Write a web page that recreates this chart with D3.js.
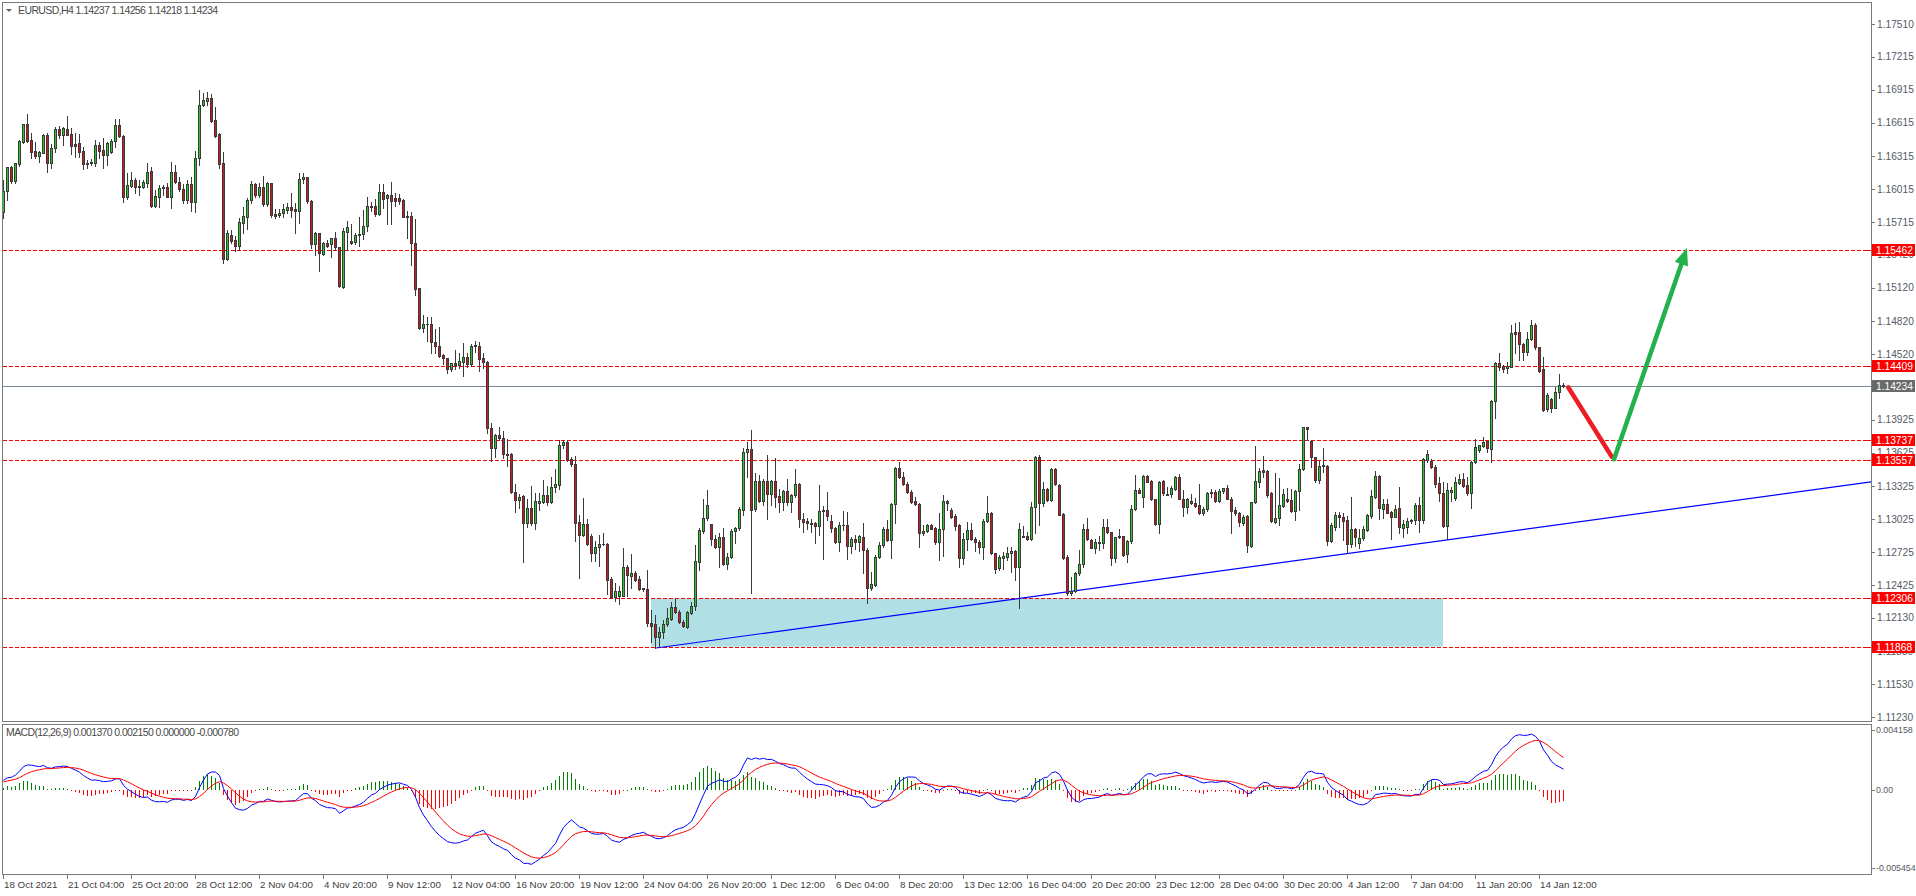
<!DOCTYPE html>
<html><head><meta charset="utf-8">
<script src="https://cdn.jsdelivr.net/npm/d3@7"></script>
<style>
html,body{margin:0;padding:0;background:#fff;overflow:hidden;}
svg{display:block;font-family:"Liberation Sans",Arial,sans-serif;}
</style></head><body>
<svg id="c" width="1916" height="896"></svg>
<script>
const symbolName = "EURUSD,H4";
const open = [
1.15803,1.16000,1.16211,1.16087,1.16241,1.16444,1.16601,1.16459,1.16359,1.16317,
1.16344,1.16504,1.16253,1.16389,1.16558,1.16501,1.16561,1.16513,1.16422,1.16428,
1.16359,1.16241,1.16247,1.16253,1.16413,1.16368,1.16320,1.16353,1.16450,1.16595,
1.16495,1.15939,1.16045,1.16096,1.16045,1.16036,1.16072,1.16178,1.15858,1.15945,
1.16021,1.16030,1.15939,1.16172,1.16081,1.16012,1.15915,1.16057,1.15894,1.16292,
1.16773,1.16815,1.16836,1.16640,1.16513,1.16247,1.15377,1.15598,1.15553,1.15501,
1.15710,1.15764,1.15915,1.16060,1.15960,1.16030,1.15876,1.16066,1.15785,1.15779,
1.15794,1.15824,1.15849,1.15830,1.15818,1.16102,1.16120,1.15909,1.15516,1.15613,
1.15426,1.15528,1.15512,1.15567,1.15487,1.15126,1.15628,1.15543,1.15536,1.15595,
1.15610,1.15677,1.15849,1.15858,1.15787,1.15986,1.15931,1.15959,1.15934,1.15934,
1.15916,1.15769,1.15769,1.15524,1.15114,1.14753,1.14793,1.14790,1.14631,1.14594,
1.14511,1.14481,1.14380,1.14435,1.14420,1.14447,1.14493,1.14426,1.14594,1.14594,
1.14481,1.14450,1.13850,1.13670,1.13783,1.13762,1.13615,1.13615,1.13269,1.13196,
1.13232,1.12988,1.13125,1.12988,1.13174,1.13180,1.13241,1.13177,1.13315,1.13333,
1.13697,1.13725,1.13569,1.13523,1.12997,1.12880,1.12978,1.12874,1.12721,1.12770,
1.12795,1.12801,1.12483,1.12314,1.12330,1.12330,1.12590,1.12507,1.12538,1.12483,
1.12397,1.12391,1.12080,1.12074,1.11953,1.11998,1.12071,1.12122,1.12225,1.12185,
1.12089,1.12050,1.12170,1.12240,1.12639,1.12919,1.13031,1.12977,1.12841,1.12774,
1.12859,1.12614,1.12678,1.12916,1.12941,1.13107,1.13635,1.13656,1.13113,1.13369,
1.13191,1.13369,1.13252,1.13369,1.13233,1.13182,1.13279,1.13179,1.13239,1.13339,
1.13025,1.13007,1.12986,1.12989,1.12965,1.13107,1.13107,1.13004,1.12947,1.12820,
1.12968,1.12971,1.12783,1.12847,1.12814,1.12865,1.12744,1.12397,1.12427,1.12678,
1.12787,1.12938,1.12835,1.13158,1.13484,1.13403,1.13339,1.13267,1.13188,1.13158,
1.12895,1.12916,1.12971,1.12947,1.12817,1.12931,1.13188,1.13107,1.13052,1.12971,
1.12675,1.12841,1.12925,1.12844,1.12820,1.12774,1.13010,1.13076,1.12714,1.12578,
1.12675,1.12684,1.12714,1.12735,1.12593,1.12865,1.12871,1.12847,1.13131,1.13584,
1.13173,1.13294,1.13197,1.13478,1.13330,1.13070,1.12678,1.12351,1.12373,1.12533,
1.12614,1.12931,1.12835,1.12759,1.12804,1.12804,1.12949,1.12904,1.12669,1.12859,
1.12871,1.12705,1.12826,1.13112,1.13288,1.13227,1.13414,1.13369,1.13203,1.12980,
1.13369,1.13251,1.13251,1.13294,1.13402,1.13206,1.13137,1.13188,1.13173,1.13152,
1.13076,1.13112,1.13266,1.13266,1.13191,1.13278,1.13303,1.13206,1.13106,1.13082,
1.12992,1.13052,1.12780,1.13176,1.13363,1.13469,1.13460,1.13257,1.13001,1.13031,
1.13143,1.13203,1.13197,1.13100,1.13282,1.13475,1.13855,1.13732,1.13584,1.13378,
1.13511,1.13505,1.12828,1.12955,1.13061,1.13040,1.13016,1.12795,1.12931,1.12804,
1.12850,1.12925,1.13055,1.13227,1.13414,1.13115,1.13161,1.13088,1.13046,1.13121,
1.12946,1.12955,1.13003,1.13016,1.13151,1.13016,1.13559,1.13553,1.13493,1.13348,
1.13257,1.12964,1.13272,1.13218,1.13354,1.13387,1.13333,1.13257,1.13538,1.13650,
1.13686,1.13731,1.13659,1.14097,1.14435,1.14411,1.14390,1.14405,1.14716,1.14716,
1.14607,1.14541,1.14652,1.14782,1.14580,1.14381,1.14018,1.14112,1.14033,1.14178,
1.14237];
const high = [
1.16096,1.16217,1.16223,1.16253,1.16459,1.16604,1.16694,1.16519,1.16444,1.16362,
1.16513,1.16519,1.16419,1.16579,1.16585,1.16579,1.16676,1.16564,1.16519,1.16510,
1.16398,1.16277,1.16283,1.16459,1.16444,1.16474,1.16444,1.16465,1.16649,1.16649,
1.16500,1.16157,1.16166,1.16111,1.16096,1.16096,1.16247,1.16217,1.16006,1.16048,
1.16051,1.16072,1.16256,1.16232,1.16126,1.16060,1.16096,1.16126,1.16362,1.16912,
1.16887,1.16896,1.16872,1.16755,1.16519,1.16353,1.15643,1.15643,1.15589,1.15749,
1.15855,1.15936,1.16087,1.16066,1.16066,1.16132,1.16081,1.16072,1.15830,1.15836,
1.15879,1.15885,1.15975,1.15885,1.16157,1.16157,1.16126,1.15915,1.15628,1.15619,
1.15538,1.15553,1.15573,1.15625,1.15490,1.15665,1.15726,1.15696,1.15619,1.15763,
1.15824,1.15946,1.15894,1.15925,1.16063,1.16063,1.15971,1.16078,1.15977,1.15971,
1.15920,1.15818,1.15803,1.15741,1.15120,1.14869,1.14854,1.14851,1.14747,1.14765,
1.14517,1.14487,1.14441,1.14557,1.14533,1.14618,1.14533,1.14606,1.14640,1.14625,
1.14533,1.14456,1.13896,1.13798,1.13860,1.13823,1.13752,1.13621,1.13339,1.13248,
1.13238,1.13202,1.13324,1.13263,1.13263,1.13376,1.13324,1.13401,1.13477,1.13737,
1.13743,1.13737,1.13584,1.13599,1.13058,1.13217,1.13024,1.12887,1.12825,1.12880,
1.12896,1.12804,1.12498,1.12443,1.12415,1.12758,1.12605,1.12712,1.12550,1.12507,
1.12400,1.12559,1.12201,1.12155,1.12050,1.12110,1.12216,1.12276,1.12300,1.12201,
1.12110,1.12195,1.12276,1.12790,1.12941,1.13206,1.13288,1.12980,1.12880,1.12895,
1.12941,1.12714,1.12931,1.12956,1.13131,1.13665,1.13726,1.13831,1.13439,1.13424,
1.13384,1.13605,1.13378,1.13575,1.13294,1.13288,1.13384,1.13252,1.13475,1.13348,
1.13076,1.13031,1.13022,1.13001,1.13333,1.13143,1.13273,1.13061,1.12956,1.13001,
1.13101,1.13091,1.12859,1.12880,1.12880,1.12986,1.12759,1.12548,1.12699,1.12820,
1.12950,1.13016,1.13173,1.13499,1.13544,1.13454,1.13363,1.13288,1.13221,1.13167,
1.12971,1.12980,1.12980,1.12956,1.13076,1.13242,1.13197,1.13122,1.13070,1.12977,
1.12895,1.12995,1.12986,1.12865,1.12835,1.13025,1.13233,1.13091,1.12720,1.12699,
1.12729,1.12774,1.12774,1.12744,1.12986,1.12961,1.12910,1.13182,1.13596,1.13605,
1.13363,1.13303,1.13484,1.13490,1.13339,1.13076,1.12699,1.12502,1.12548,1.12744,
1.12980,1.13031,1.12841,1.12841,1.12871,1.13022,1.13022,1.12910,1.12865,1.12931,
1.12875,1.12835,1.13152,1.13423,1.13303,1.13423,1.13420,1.13378,1.13209,1.13369,
1.13378,1.13312,1.13324,1.13414,1.13433,1.13288,1.13212,1.13248,1.13212,1.13342,
1.13137,1.13272,1.13294,1.13288,1.13294,1.13309,1.13333,1.13221,1.13131,1.13091,
1.13061,1.13061,1.13182,1.13689,1.13484,1.13596,1.13469,1.13272,1.13445,1.13393,
1.13294,1.13303,1.13294,1.13288,1.13523,1.13861,1.13861,1.13741,1.13590,1.13553,
1.13665,1.13511,1.12991,1.13091,1.13091,1.13082,1.13055,1.13227,1.12940,1.12931,
1.12961,1.13070,1.13287,1.13463,1.13420,1.13203,1.13203,1.13100,1.13151,1.13318,
1.13016,1.13031,1.13028,1.13167,1.13227,1.13580,1.13650,1.13565,1.13511,1.13402,
1.13357,1.13348,1.13312,1.13408,1.13432,1.13438,1.13408,1.13550,1.13746,1.13695,
1.13771,1.13734,1.14103,1.14450,1.14526,1.14420,1.14450,1.14779,1.14797,1.14806,
1.14616,1.14716,1.14828,1.14797,1.14586,1.14489,1.14163,1.14118,1.14224,1.14338,
1.14256];
const low = [
1.15749,1.15915,1.16066,1.16066,1.16226,1.16428,1.16444,1.16292,1.16292,1.16259,
1.16338,1.16166,1.16202,1.16353,1.16474,1.16416,1.16501,1.16332,1.16308,1.16308,
1.16193,1.16202,1.16232,1.16226,1.16292,1.16208,1.16232,1.16338,1.16398,1.16489,
1.15900,1.15924,1.16036,1.15981,1.15960,1.16021,1.16036,1.15849,1.15849,1.15855,
1.15960,1.15939,1.15840,1.16072,1.16000,1.15891,1.15885,1.15818,1.15809,1.16235,
1.16767,1.16773,1.16625,1.16486,1.16202,1.15347,1.15371,1.15522,1.15453,1.15462,
1.15613,1.15649,1.15885,1.15945,1.15945,1.15864,1.15864,1.15764,1.15749,1.15764,
1.15764,1.15794,1.15764,1.15613,1.15710,1.16066,1.15885,1.15477,1.15417,1.15275,
1.15417,1.15486,1.15399,1.15466,1.15130,1.15120,1.15466,1.15520,1.15512,1.15497,
1.15558,1.15634,1.15818,1.15772,1.15781,1.15842,1.15696,1.15702,1.15864,1.15879,
1.15760,1.15573,1.15322,1.15053,1.14750,1.14722,1.14640,1.14533,1.14533,1.14496,
1.14426,1.14349,1.14364,1.14380,1.14395,1.14319,1.14404,1.14410,1.14542,1.14364,
1.14395,1.13805,1.13554,1.13590,1.13743,1.13578,1.13508,1.13263,1.13085,1.13125,
1.12636,1.12951,1.12972,1.12932,1.13110,1.13171,1.13156,1.13171,1.13269,1.13294,
1.13670,1.13554,1.13508,1.12825,1.12492,1.12874,1.12789,1.12642,1.12642,1.12596,
1.12789,1.12345,1.12305,1.12278,1.12253,1.12323,1.12330,1.12397,1.12467,1.12385,
1.12375,1.12054,1.11914,1.11853,1.11868,1.11944,1.12059,1.12110,1.12170,1.12080,
1.12044,1.12041,1.12161,1.12201,1.12563,1.12901,1.13016,1.12790,1.12765,1.12593,
1.12608,1.12569,1.12669,1.12811,1.12925,1.13061,1.13409,1.12352,1.13101,1.13182,
1.13152,1.13022,1.13152,1.13131,1.13091,1.13107,1.13152,1.13091,1.13221,1.12950,
1.12910,1.12931,1.12910,1.12811,1.12880,1.12660,1.13016,1.12910,1.12805,1.12738,
1.12925,1.12660,1.12714,1.12750,1.12735,1.12533,1.12267,1.12382,1.12418,1.12669,
1.12774,1.12830,1.12669,1.12992,1.13393,1.13330,1.13258,1.13173,1.13152,1.12774,
1.12880,1.12904,1.12931,1.12799,1.12654,1.12690,1.13107,1.13031,1.12925,1.12593,
1.12617,1.12744,1.12835,1.12735,1.12714,1.12660,1.12995,1.12708,1.12533,1.12563,
1.12569,1.12653,1.12548,1.12472,1.12215,1.12859,1.12835,1.12835,1.12901,1.12970,
1.13143,1.13191,1.13191,1.13333,1.13058,1.12659,1.12336,1.12336,1.12366,1.12517,
1.12593,1.12835,1.12759,1.12720,1.12744,1.12759,1.12895,1.12608,1.12638,1.12855,
1.12690,1.12638,1.12804,1.13106,1.13257,1.13137,1.13360,1.13197,1.12970,1.12895,
1.13242,1.13240,1.13227,1.13288,1.13203,1.13052,1.13076,1.13161,1.13137,1.13070,
1.13061,1.13100,1.13227,1.13182,1.13182,1.13257,1.13203,1.12895,1.13061,1.12961,
1.12970,1.12729,1.12774,1.13167,1.13318,1.13408,1.13227,1.13001,1.12986,1.12970,
1.13137,1.13182,1.13091,1.13016,1.13106,1.13469,1.13741,1.13499,1.13363,1.13348,
1.13453,1.12789,1.12819,1.12925,1.12949,1.12834,1.12714,1.12774,1.12780,1.12765,
1.12834,1.12916,1.13031,1.13212,1.13022,1.13031,1.13076,1.12840,1.13040,1.12895,
1.12865,1.12895,1.12991,1.12976,1.12910,1.12985,1.13544,1.13484,1.13318,1.13191,
1.12949,1.12843,1.13191,1.13197,1.13339,1.13318,1.13242,1.13121,1.13529,1.13635,
1.13674,1.13635,1.13538,1.13937,1.14375,1.14360,1.14350,1.14399,1.14526,1.14465,
1.14465,1.14510,1.14646,1.14565,1.14360,1.14006,1.14006,1.13991,1.14030,1.14118,
1.14218];
const close = [
1.16000,1.16211,1.16087,1.16247,1.16450,1.16601,1.16450,1.16353,1.16317,1.16350,
1.16504,1.16253,1.16389,1.16558,1.16501,1.16570,1.16507,1.16407,1.16407,1.16353,
1.16238,1.16253,1.16259,1.16413,1.16362,1.16320,1.16434,1.16450,1.16595,1.16495,
1.15939,1.16051,1.16096,1.16030,1.16030,1.16078,1.16166,1.15864,1.15951,1.16021,
1.16036,1.15945,1.16172,1.16081,1.16012,1.15915,1.16057,1.15894,1.16292,1.16773,
1.16821,1.16836,1.16634,1.16498,1.16244,1.15377,1.15613,1.15544,1.15501,1.15716,
1.15770,1.15915,1.16060,1.15960,1.16030,1.15876,1.16066,1.15779,1.15770,1.15794,
1.15830,1.15849,1.15824,1.15818,1.16102,1.16120,1.15909,1.15516,1.15613,1.15432,
1.15528,1.15501,1.15567,1.15487,1.15139,1.15634,1.15671,1.15527,1.15598,1.15610,
1.15677,1.15858,1.15864,1.15787,1.15986,1.15928,1.15959,1.15910,1.15910,1.15910,
1.15763,1.15763,1.15527,1.15108,1.14753,1.14790,1.14787,1.14625,1.14588,1.14502,
1.14481,1.14380,1.14435,1.14420,1.14453,1.14493,1.14426,1.14594,1.14603,1.14478,
1.14450,1.13853,1.13667,1.13783,1.13762,1.13615,1.13609,1.13269,1.13196,1.13226,
1.12988,1.13125,1.12988,1.13186,1.13186,1.13241,1.13180,1.13315,1.13339,1.13697,
1.13725,1.13563,1.13523,1.12988,1.12880,1.12978,1.12795,1.12721,1.12773,1.12795,
1.12801,1.12476,1.12314,1.12375,1.12375,1.12590,1.12513,1.12538,1.12476,1.12391,
1.12391,1.12079,1.12059,1.11953,1.12001,1.12071,1.12125,1.12225,1.12185,1.12089,
1.12053,1.12179,1.12237,1.12645,1.12925,1.13031,1.13152,1.12841,1.12774,1.12859,
1.12614,1.12681,1.12916,1.12941,1.13116,1.13632,1.13656,1.13107,1.13369,1.13191,
1.13369,1.13249,1.13369,1.13227,1.13182,1.13279,1.13182,1.13239,1.13339,1.13022,
1.13001,1.12986,1.12983,1.12965,1.13098,1.13094,1.13055,1.12941,1.12814,1.12968,
1.12974,1.12783,1.12847,1.12820,1.12868,1.12744,1.12397,1.12436,1.12681,1.12787,
1.12938,1.12835,1.13161,1.13484,1.13403,1.13339,1.13267,1.13182,1.13158,1.12895,
1.12916,1.12971,1.12938,1.12820,1.12934,1.13188,1.13167,1.13046,1.12965,1.12675,
1.12844,1.12925,1.12844,1.12820,1.12774,1.13004,1.13076,1.12714,1.12572,1.12684,
1.12693,1.12714,1.12735,1.12593,1.12931,1.12871,1.12847,1.13131,1.13584,1.13173,
1.13294,1.13197,1.13478,1.13339,1.13061,1.12669,1.12351,1.12376,1.12533,1.12614,
1.12931,1.12841,1.12765,1.12814,1.12820,1.12949,1.12904,1.12669,1.12859,1.12871,
1.12699,1.12829,1.13112,1.13288,1.13263,1.13414,1.13363,1.13203,1.12980,1.13357,
1.13263,1.13242,1.13303,1.13402,1.13206,1.13137,1.13206,1.13173,1.13146,1.13076,
1.13115,1.13263,1.13263,1.13191,1.13282,1.13303,1.13206,1.13100,1.13082,1.12995,
1.13046,1.12789,1.13176,1.13369,1.13463,1.13454,1.13242,1.13010,1.13031,1.13149,
1.13248,1.13191,1.13100,1.13278,1.13475,1.13855,1.13837,1.13584,1.13378,1.13508,
1.13505,1.12828,1.12970,1.13061,1.13040,1.13010,1.12795,1.12931,1.12865,1.12850,
1.12931,1.13061,1.13233,1.13414,1.13121,1.13161,1.13082,1.13046,1.13112,1.12955,
1.12979,1.13006,1.13016,1.13151,1.13016,1.13568,1.13614,1.13493,1.13342,1.13257,
1.12961,1.13287,1.13287,1.13357,1.13387,1.13327,1.13257,1.13538,1.13680,1.13692,
1.13725,1.13665,1.14094,1.14435,1.14405,1.14387,1.14411,1.14707,1.14701,1.14607,
1.14535,1.14655,1.14782,1.14580,1.14369,1.14012,1.14148,1.14033,1.14178,1.14239,
1.14234];

const priceDomain = [1.11230, 1.17510];
const priceTicks = [1.17510,1.17215,1.16915,1.16615,1.16315,1.16015,1.15715,1.15420,1.15120,1.14820,
  1.14520,1.14220,1.13925,1.13625,1.13325,1.13025,1.12725,1.12425,1.12130,1.11830,1.11530,1.11230];
const levelPrices = [1.15462, 1.14409, 1.13737, 1.13557, 1.12306, 1.11868];
const bidPrice = 1.14234;
const timeLabels = ["18 Oct 2021","21 Oct 04:00","25 Oct 20:00","28 Oct 12:00","2 Nov 04:00","4 Nov 20:00",
  "9 Nov 12:00","12 Nov 04:00","16 Nov 20:00","19 Nov 12:00","24 Nov 04:00","26 Nov 20:00","1 Dec 12:00",
  "6 Dec 04:00","8 Dec 20:00","13 Dec 12:00","16 Dec 04:00","20 Dec 20:00","23 Dec 12:00","28 Dec 04:00",
  "30 Dec 20:00","4 Jan 12:00","7 Jan 04:00","11 Jan 20:00","14 Jan 12:00"];
const barsPerTimeLabel = 16;
const zoneBars = [162, 360];
const zonePrices = [1.11868, 1.12306];
const trendBars = [163.3, 249.25];
const trendPrices = [1.11856, 1.12282];
const redArrowBars = [391.3, 402.2];
const redArrowPrices = [1.14218, 1.13589];
const greenArrowBars = [402.75, 420.9];
const greenArrowPrices = [1.13566, 1.15471];
const macdParams = [12, 26, 9];
const macdSeed = [1.1592, 1.1586, 0.0005];
const macdDomain = [-0.005454, 0.004158];
const macdTickValues = [0.004158, 0, -0.005454];
const macdTickText = ["0.004158", "0.00", "-0.005454"];
const macdTitle = "MACD(12,26,9) 0.001370 0.002150 0.000000 -0.000780";

// ---- layout ----
const L = 2, R = 1871, mainTop = 2, mainBot = 721, mTop = 724, mBot = 874;
const n = close.length;
const svg = d3.select("#c");
const x = d3.scaleLinear().domain([0, n - 1]).range([3, 3 + 4 * (n - 1)]);
const y = d3.scaleLinear().domain(priceDomain).range([717.1, 23.95]);
const ym = d3.scaleLinear().domain(macdDomain).range([871, 727.5]);

svg.append("rect").attr("width",1916).attr("height",896).attr("fill","#fff");

const defs = svg.append("defs");
defs.append("clipPath").attr("id","clipMain").append("rect")
  .attr("x",L+1).attr("y",mainTop+1).attr("width",R-L-1).attr("height",mainBot-mainTop-1);
defs.append("clipPath").attr("id","clipMacd").append("rect")
  .attr("x",L+1).attr("y",mTop+1).attr("width",R-L-1).attr("height",mBot-mTop-1);

const main = svg.append("g").attr("clip-path","url(#clipMain)");

// zone rectangle
main.append("rect")
  .attr("x", x(zoneBars[0])).attr("width", x(zoneBars[1]) - x(zoneBars[0]))
  .attr("y", y(zonePrices[1])).attr("height", y(zonePrices[0]) - y(zonePrices[1]))
  .attr("fill", "#b0e0e6");

// horizontal levels
main.selectAll("line.lvl").data(levelPrices).join("line")
  .attr("x1", L+1).attr("x2", R)
  .attr("y1", d => Math.round(y(d)) + 0.5).attr("y2", d => Math.round(y(d)) + 0.5)
  .attr("stroke", "#ff0000").attr("stroke-width", 1).attr("stroke-dasharray", "4,2");

// bid line
main.append("line").attr("x1", L+1).attr("x2", R)
  .attr("y1", Math.round(y(bidPrice)) + 0.5).attr("y2", Math.round(y(bidPrice)) + 0.5)
  .attr("stroke", "#778899").attr("stroke-width", 1);

// trend line extended to right edge
const slope = (trendPrices[1] - trendPrices[0]) / (trendBars[1] - trendBars[0]);
const rightBar = x.invert(R);
main.append("line")
  .attr("x1", x(trendBars[0])).attr("y1", y(trendPrices[0]))
  .attr("x2", x(rightBar)).attr("y2", y(trendPrices[0] + slope * (rightBar - trendBars[0])))
  .attr("stroke", "#0000ff").attr("stroke-width", 1.2);

// candles
const idx = d3.range(n);
const cg = main.append("g").attr("shape-rendering", "crispEdges");
cg.selectAll("rect.wick").data(idx).join("rect")
  .attr("x", i => x(i)).attr("width", 1)
  .attr("y", i => Math.round(y(high[i])))
  .attr("height", i => Math.max(1, Math.round(y(low[i])) - Math.round(y(high[i])) + 1))
  .attr("fill", "#3a3a3a");
cg.selectAll("rect.body").data(idx).join("rect")
  .attr("x", i => x(i) - 1).attr("width", 3)
  .attr("y", i => Math.round(y(Math.max(open[i], close[i]))))
  .attr("height", i => Math.max(1, Math.round(y(Math.min(open[i], close[i]))) - Math.round(y(Math.max(open[i], close[i]))) + 1))
  .attr("fill", "#3a3a3a");
cg.selectAll("rect.fill").data(idx.filter(i => Math.round(y(Math.min(open[i], close[i]))) - Math.round(y(Math.max(open[i], close[i]))) >= 2)).join("rect")
  .attr("x", i => x(i)).attr("width", 1)
  .attr("y", i => Math.round(y(Math.max(open[i], close[i]))) + 1)
  .attr("height", i => Math.round(y(Math.min(open[i], close[i]))) - Math.round(y(Math.max(open[i], close[i]))) - 1)
  .attr("fill", i => close[i] >= open[i] ? "#22cc22" : "#d01818");

// arrows
main.append("line")
  .attr("x1", x(redArrowBars[0])).attr("y1", y(redArrowPrices[0]))
  .attr("x2", x(redArrowBars[1])).attr("y2", y(redArrowPrices[1]))
  .attr("stroke", "#ee1c24").attr("stroke-width", 4.5).attr("stroke-linecap", "round");
const gx0 = x(greenArrowBars[0]), gy0 = y(greenArrowPrices[0]);
const gx1 = x(greenArrowBars[1]), gy1 = y(greenArrowPrices[1]);
const glen = Math.hypot(gx1 - gx0, gy1 - gy0);
const ux = (gx1 - gx0) / glen, uy = (gy1 - gy0) / glen;
const headL = 16, headW = 7;
const bx = gx1 - ux * headL, by = gy1 - uy * headL;
main.append("line")
  .attr("x1", gx0).attr("y1", gy0).attr("x2", bx + ux * 2).attr("y2", by + uy * 2)
  .attr("stroke", "#22b14c").attr("stroke-width", 4.5).attr("stroke-linecap", "round");
main.append("polygon")
  .attr("points", [[gx1 + ux, gy1 + uy], [bx - uy * headW, by + ux * headW], [bx + uy * headW, by - ux * headW]].map(p => p.join(",")).join(" "))
  .attr("fill", "#22b14c");

// frames
const frame = svg.append("g").attr("fill", "none").attr("stroke", "#7a7a7a").attr("shape-rendering", "crispEdges");
frame.append("rect").attr("x", L + 0.5).attr("y", mainTop + 0.5).attr("width", R - L).attr("height", mainBot - mainTop);
frame.append("rect").attr("x", L + 0.5).attr("y", mTop + 0.5).attr("width", R - L).attr("height", mBot - mTop);

// price axis
const ax = svg.append("g").attr("font-size", "10.2px");
ax.selectAll("line.t").data(priceTicks).join("line")
  .attr("x1", R + 1).attr("x2", R + 4)
  .attr("y1", d => Math.round(y(d)) + 0.5).attr("y2", d => Math.round(y(d)) + 0.5)
  .attr("stroke", "#7a7a7a");
ax.selectAll("text.t").data(priceTicks).join("text")
  .attr("x", R + 6).attr("y", d => y(d) + 3.7)
  .attr("fill", "#555a64").text(d => d.toFixed(5));

// level price tags
const tags = [...levelPrices.map(p => ({p, c: "#ff0000"})), {p: bidPrice, c: "#6a6a6a"}];
const tg = svg.append("g").attr("font-size", "10.2px");
tg.selectAll("rect").data(tags).join("rect")
  .attr("x", R + 1).attr("y", d => Math.round(y(d.p)) - 6).attr("width", 43).attr("height", 12)
  .attr("fill", d => d.c);
tg.selectAll("text").data(tags).join("text")
  .attr("x", R + 5).attr("y", d => Math.round(y(d.p)) + 4)
  .attr("fill", "#fff").text(d => d.p.toFixed(5));
tg.selectAll("line").data(tags).join("line")
  .attr("x1", R - 4).attr("x2", R).attr("y1", d => Math.round(y(d.p)) + 0.5).attr("y2", d => Math.round(y(d.p)) + 0.5)
  .attr("stroke", d => d.c === "#ff0000" ? "#ff0000" : "#778899");

// header
svg.append("path").attr("d", "M6,9 L12,9 L9,12 Z").attr("fill", "#606060");
svg.append("text").attr("x", 18).attr("y", 14).attr("font-size", "10.5px").attr("fill", "#4a4a4a")
  .attr("textLength", 200).attr("lengthAdjust", "spacing")
  .text(`${symbolName}  ${open[n-1].toFixed(5)} ${high[n-1].toFixed(5)} ${low[n-1].toFixed(5)} ${close[n-1].toFixed(5)}`);

// MACD
const [pf, ps, pg] = macdParams;
const af = 2 / (pf + 1), as = 2 / (ps + 1), ag = 2 / (pg + 1);
let ef = macdSeed[0], es = macdSeed[1], sg = macdSeed[2];
const macd = [], signal = [];
close.forEach(c => {
  ef += af * (c - ef); es += as * (c - es);
  const m = ef - es; sg += ag * (m - sg);
  macd.push(m); signal.push(sg);
});
const mg = svg.append("g").attr("clip-path", "url(#clipMacd)");
const z0 = Math.round(ym(0));
mg.append("g").attr("shape-rendering", "crispEdges").selectAll("rect").data(idx).join("rect")
  .attr("x", i => x(i)).attr("width", 1)
  .attr("y", i => { const v = macd[i] - signal[i]; return v >= 0 ? Math.round(ym(v)) : z0; })
  .attr("height", i => Math.max(1, Math.abs(Math.round(ym(macd[i] - signal[i])) - z0)))
  .attr("fill", i => macd[i] - signal[i] >= 0 ? "#008000" : "#ff0000");
mg.append("path").datum(idx).attr("fill", "none").attr("stroke", "#0000ff").attr("stroke-width", 1)
  .attr("d", d3.line().x(i => x(i) + 0.5).y(i => ym(macd[i])));
mg.append("path").datum(idx).attr("fill", "none").attr("stroke", "#ff0000").attr("stroke-width", 1)
  .attr("d", d3.line().x(i => x(i) + 0.5).y(i => ym(signal[i])));
svg.append("text").attr("x", 6).attr("y", 736).attr("font-size", "10.5px").attr("fill", "#4a4a4a")
  .attr("textLength", 233).attr("lengthAdjust", "spacing").text(macdTitle);

const mAx = svg.append("g").attr("font-size", "8.8px");
mAx.selectAll("line").data(macdTickValues).join("line")
  .attr("x1", R + 1).attr("x2", R + 4)
  .attr("y1", d => Math.round(Math.min(Math.max(ym(d), mTop + 6), mBot - 6)) + 0.5)
  .attr("y2", d => Math.round(Math.min(Math.max(ym(d), mTop + 6), mBot - 6)) + 0.5)
  .attr("stroke", "#7a7a7a");
mAx.selectAll("text").data(macdTickValues).join("text")
  .attr("x", R + 5).attr("y", d => Math.min(Math.max(ym(d), mTop + 6), mBot - 6) + 3.3)
  .attr("fill", "#555a64").text((d, i) => macdTickText[i]);

// time axis
const tAx = svg.append("g").attr("font-size", "9.8px");
tAx.selectAll("line").data(timeLabels).join("line")
  .attr("x1", (d, i) => x(i * barsPerTimeLabel) + 0.5).attr("x2", (d, i) => x(i * barsPerTimeLabel) + 0.5)
  .attr("y1", mBot).attr("y2", mBot + 5).attr("stroke", "#7a7a7a");
tAx.selectAll("text").data(timeLabels).join("text")
  .attr("x", (d, i) => x(i * barsPerTimeLabel) + 1).attr("y", 888)
  .attr("fill", "#404040").text(d => d);
</script>
</body></html>
